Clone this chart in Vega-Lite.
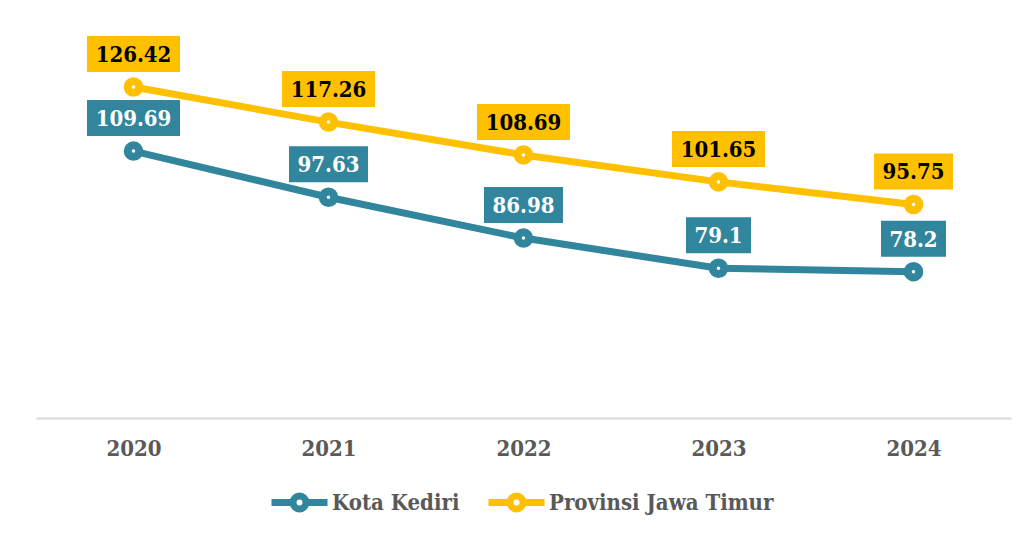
{
  "$schema": "https://vega.github.io/schema/vega-lite/v6.json",
  "autosize": {"type": "none"},
  "padding": {"left": 36, "top": 35, "right": 17, "bottom": 118},
  "width": 975,
  "height": 383,
  "background": "white",
  "config": {"view": {"stroke": null}, "font": "DejaVu Serif Condensed, DejaVu Serif, serif"},
  "data": {"values": [
    {"year": "2020", "series": "Kota Kediri", "value": 109.69, "label": "109.69"},
    {"year": "2021", "series": "Kota Kediri", "value": 97.63, "label": "97.63"},
    {"year": "2022", "series": "Kota Kediri", "value": 86.98, "label": "86.98"},
    {"year": "2023", "series": "Kota Kediri", "value": 79.1, "label": "79.1"},
    {"year": "2024", "series": "Kota Kediri", "value": 78.2, "label": "78.2"},
    {"year": "2020", "series": "Provinsi Jawa Timur", "value": 126.42, "label": "126.42"},
    {"year": "2021", "series": "Provinsi Jawa Timur", "value": 117.26, "label": "117.26"},
    {"year": "2022", "series": "Provinsi Jawa Timur", "value": 108.69, "label": "108.69"},
    {"year": "2023", "series": "Provinsi Jawa Timur", "value": 101.65, "label": "101.65"},
    {"year": "2024", "series": "Provinsi Jawa Timur", "value": 95.75, "label": "95.75"}
  ]},
  "encoding": {
    "x": {"field": "year", "type": "nominal", "scale": {"type": "point", "padding": 0.5},
      "axis": {"title": null, "labelAngle": 0, "ticks": false, "grid": false, "domainColor": "#d9d9d9", "domainWidth": 2,
        "labelFont": "DejaVu Serif Condensed, DejaVu Serif, serif", "labelFontSize": 22, "labelFontWeight": "bold", "labelColor": "#595959", "labelPadding": 20}},
    "y": {"field": "value", "type": "quantitative", "scale": {"domain": [40, 140], "nice": false, "zero": false}, "axis": null}
  },
  "layer": [
    {
      "mark": {"type": "line", "strokeWidth": 7},
      "encoding": {
        "color": {"field": "series", "type": "nominal",
          "scale": {"domain": ["Kota Kediri", "Provinsi Jawa Timur"], "range": ["#31859C", "#FFC000"]},
          "legend": {"title": null, "orient": "none", "direction": "horizontal", "legendX": 232, "legendY": 436,
            "symbolType": "M-1,0H-0.232A0.232,0.232 0 0,1 0.232,0A0.232,0.232 0 0,0 -0.232,0A0.232,0.232 0 0,0 0.232,0A0.232,0.232 0 0,1 -0.232,0M0.232,0H1",
            "symbolSize": 3136, "symbolStrokeWidth": 7, "symbolFillColor": "white", "labelOffset": 1, "columnPadding": 14, "padding": 0, "labelLimit": 500,
            "labelFont": "DejaVu Serif Condensed, DejaVu Serif, serif", "labelFontSize": 22, "labelFontWeight": "bold", "labelColor": "#595959",
            "encoding": {"symbols": {"fill": {"value": "white"}, "strokeWidth": {"value": 7}}}}
        }
      }
    },
    {
      "mark": {"type": "point", "filled": true, "fill": "white", "size": 133, "strokeWidth": 8, "opacity": 1},
      "encoding": {
        "stroke": {"field": "series", "type": "nominal",
          "scale": {"domain": ["Kota Kediri", "Provinsi Jawa Timur"], "range": ["#31859C", "#FFC000"]}, "legend": null}
      }
    },
    {
      "mark": {"type": "point", "filled": true, "size": 1296, "strokeWidth": 0, "opacity": 1},
      "encoding": {
        "fill": {"field": "series", "type": "nominal",
          "scale": {"domain": ["Kota Kediri", "Provinsi Jawa Timur"], "range": ["#31859C", "#FFC000"]}, "legend": null},
        "shape": {"field": "label", "type": "nominal", "legend": null,
          "scale": {
            "domain": ["109.69", "97.63", "86.98", "79.1", "78.2", "126.42", "117.26", "108.69", "101.65", "95.75"],
            "range": [
              "M-2.583,-2.833H2.583V-0.833H-2.583Z",
              "M-2.194,-2.833H2.194V-0.833H-2.194Z",
              "M-2.194,-2.833H2.194V-0.833H-2.194Z",
              "M-1.806,-2.833H1.806V-0.833H-1.806Z",
              "M-1.806,-2.833H1.806V-0.833H-1.806Z",
              "M-2.583,-2.833H2.583V-0.833H-2.583Z",
              "M-2.583,-2.833H2.583V-0.833H-2.583Z",
              "M-2.583,-2.833H2.583V-0.833H-2.583Z",
              "M-2.583,-2.833H2.583V-0.833H-2.583Z",
              "M-2.194,-2.833H2.194V-0.833H-2.194Z"
            ]}}
      }
    },
    {
      "mark": {"type": "text", "dy": -32, "baseline": "middle", "align": "center", "fontSize": 22, "fontWeight": "bold",
        "font": "DejaVu Serif Condensed, DejaVu Serif, serif"},
      "encoding": {
        "text": {"field": "label"},
        "fill": {"condition": {"test": "datum.series === 'Kota Kediri'", "value": "white"}, "value": "black"}
      }
    }
  ]
}
